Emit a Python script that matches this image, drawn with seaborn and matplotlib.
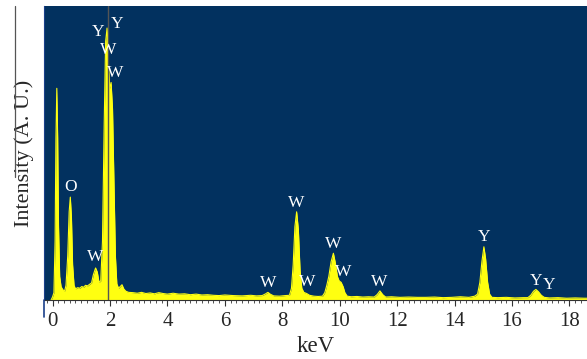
import numpy as np
import pandas as pd
import matplotlib
matplotlib.use("Agg")
import matplotlib.pyplot as plt
from matplotlib.lines import Line2D
from matplotlib.ticker import MultipleLocator
import seaborn as sns

# spectrum (keV, intensity in % of axis height)
energy = [-0.05, 0.00, 0.05, 0.09, 0.12, 0.15, 0.18, 0.21, 0.25, 0.30, 0.36, 0.42,
          0.47, 0.53, 0.58, 0.62, 0.66, 0.70, 0.75, 0.80, 0.88, 0.95, 1.02, 1.08,
          1.15, 1.22, 1.30, 1.36, 1.42, 1.50, 1.56, 1.62, 1.68, 1.74, 1.80, 1.85,
          1.90, 1.95, 1.99, 2.04, 2.09, 2.14, 2.19, 2.24, 2.30, 2.36, 2.42, 2.48,
          2.55, 2.65, 2.80, 2.95, 3.10, 3.25, 3.40, 3.55, 3.70, 3.85, 4.00, 4.20,
          4.40, 4.60, 4.80, 5.00, 5.20, 5.40, 5.60, 5.80, 6.00, 6.30, 6.60, 6.90,
          7.10, 7.30, 7.42, 7.50, 7.58, 7.70, 7.90, 8.10, 8.25, 8.32, 8.38, 8.44,
          8.50, 8.56, 8.62, 8.68, 8.75, 8.85, 8.95, 9.10, 9.25, 9.40, 9.48, 9.55,
          9.62, 9.70, 9.78, 9.85, 9.92, 9.98, 10.05, 10.12, 10.18, 10.26, 10.40, 10.60,
          10.80, 11.00, 11.20, 11.30, 11.40, 11.50, 11.60, 11.80, 12.10, 12.40, 12.70, 13.00,
          13.30, 13.60, 13.90, 14.20, 14.50, 14.70, 14.80, 14.88, 14.95, 15.02, 15.08, 15.15,
          15.22, 15.30, 15.50, 15.80, 16.10, 16.40, 16.55, 16.65, 16.75, 16.83, 16.92, 17.02,
          17.12, 17.30, 17.60, 17.90, 18.20, 18.50, 18.70]
intensity = [0.0, 1.0, 2.5, 20.0, 55.0, 72.0, 55.0, 25.0, 8.0, 4.5, 3.5, 3.0,
             5.0, 15.0, 30.0, 35.0, 28.0, 12.0, 5.0, 3.8, 4.2, 4.0, 4.6, 4.3,
             5.0, 4.8, 5.4, 5.8, 8.5, 10.9, 9.5, 6.0, 6.5, 20.0, 60.0, 88.0,
             92.5, 80.0, 72.0, 74.0, 65.0, 40.0, 15.0, 5.5, 4.0, 4.6, 5.2, 3.8,
             3.0, 2.6, 2.5, 2.3, 2.6, 2.2, 2.4, 2.1, 2.5, 2.2, 2.0, 2.3,
             2.0, 2.1, 1.8, 2.0, 1.7, 1.8, 1.6, 1.5, 1.7, 1.5, 1.4, 1.6,
             1.4, 1.5, 2.1, 2.6, 2.0, 1.4, 1.3, 1.5, 1.6, 4.0, 12.0, 25.0,
             30.0, 24.0, 10.0, 4.0, 2.6, 2.2, 1.6, 1.3, 1.2, 1.3, 2.5, 5.0,
             8.0, 13.0, 15.9, 12.5, 8.0, 6.5, 6.0, 4.5, 2.5, 1.3, 1.1, 1.2,
             1.0, 1.1, 1.0, 1.8, 3.1, 1.8, 1.0, 1.1, 0.9, 1.0, 0.9, 0.9,
             1.0, 0.8, 0.9, 1.1, 0.9, 1.3, 2.0, 6.0, 13.0, 18.1, 14.0, 6.0,
             2.0, 0.9, 0.8, 0.9, 0.7, 0.8, 0.8, 1.6, 3.0, 3.6, 2.8, 1.6,
             0.9, 0.7, 0.8, 0.6, 0.7, 0.6, 0.6]

# peak labels
label_text = ["Y", "Y", "W", "W", "O", "W", "W", "W", "W", "W", "W", "W", "Y", "Y", "Y"]
label_x = [1.59, 2.26, 1.94, 2.18, 0.63, 1.50, 7.51, 8.50, 8.87, 9.78, 10.13, 11.38, 15.04, 16.83, 17.29]
label_y = [91.3, 93.9, 85.0, 77.3, 38.5, 14.5, 5.9, 33.1, 6.2, 18.9, 9.6, 6.2, 21.3, 6.6, 5.1]

cursor_kev = 1.93

spec = pd.DataFrame({"keV": energy, "counts": intensity})

sns.set_style("ticks")
plt.rcParams["font.family"] = ["Liberation Serif", "DejaVu Serif"]

navy = "#02315f"
yellow = "#ffff10"

fig = plt.figure(figsize=(5.87, 3.59), dpi=100)
ax = fig.add_axes([44 / 587, 59 / 359, 543 / 587, 294 / 359])
ax.set_facecolor(navy)

ax.fill_between(spec["keV"], 0, spec["counts"], color=yellow, linewidth=0)
sns.lineplot(data=spec, x="keV", y="counts", ax=ax, color=yellow, linewidth=0.8)

ax.axvline(cursor_kev, color="#555555", linewidth=1.0)

for t, x, y in zip(label_text, label_x, label_y):
    ax.text(x, y, t, color="white", fontsize=12.5, ha="center", va="center")

ax.set_xlim(-0.296, 18.61)
ax.set_ylim(0, 100)
ax.xaxis.set_major_locator(MultipleLocator(2))
ax.xaxis.set_minor_locator(MultipleLocator(0.2))
ax.tick_params(axis="x", which="major", length=4, width=0.8, color="#333333",
               labelsize=15, pad=5, direction="out")
ax.tick_params(axis="x", which="minor", length=2, width=0.6, color="#333333", direction="out")
ax.set_yticks([])

for s in ["top", "right"]:
    ax.spines[s].set_visible(False)
ax.spines["left"].set_color("#1a3f8a")
ax.spines["bottom"].set_color("#333333")
ax.spines["bottom"].set_linewidth(0.8)

ax.set_xlabel("keV", fontsize=16.5, labelpad=3)
ax.set_ylabel("Intensity (A. U.)", fontsize=16, labelpad=7)

# stray frame lines seen in the original
fig.add_artist(Line2D([44 / 587, 44 / 587], [(359 - 317) / 359, (359 - 300) / 359],
                      color="#1a3f8a", linewidth=1.2))
fig.add_artist(Line2D([15 / 587, 15 / 587], [(359 - 6) / 359, (359 - 177) / 359],
                      color="#555555", linewidth=0.9))

fig.savefig("out.png", dpi=100)
